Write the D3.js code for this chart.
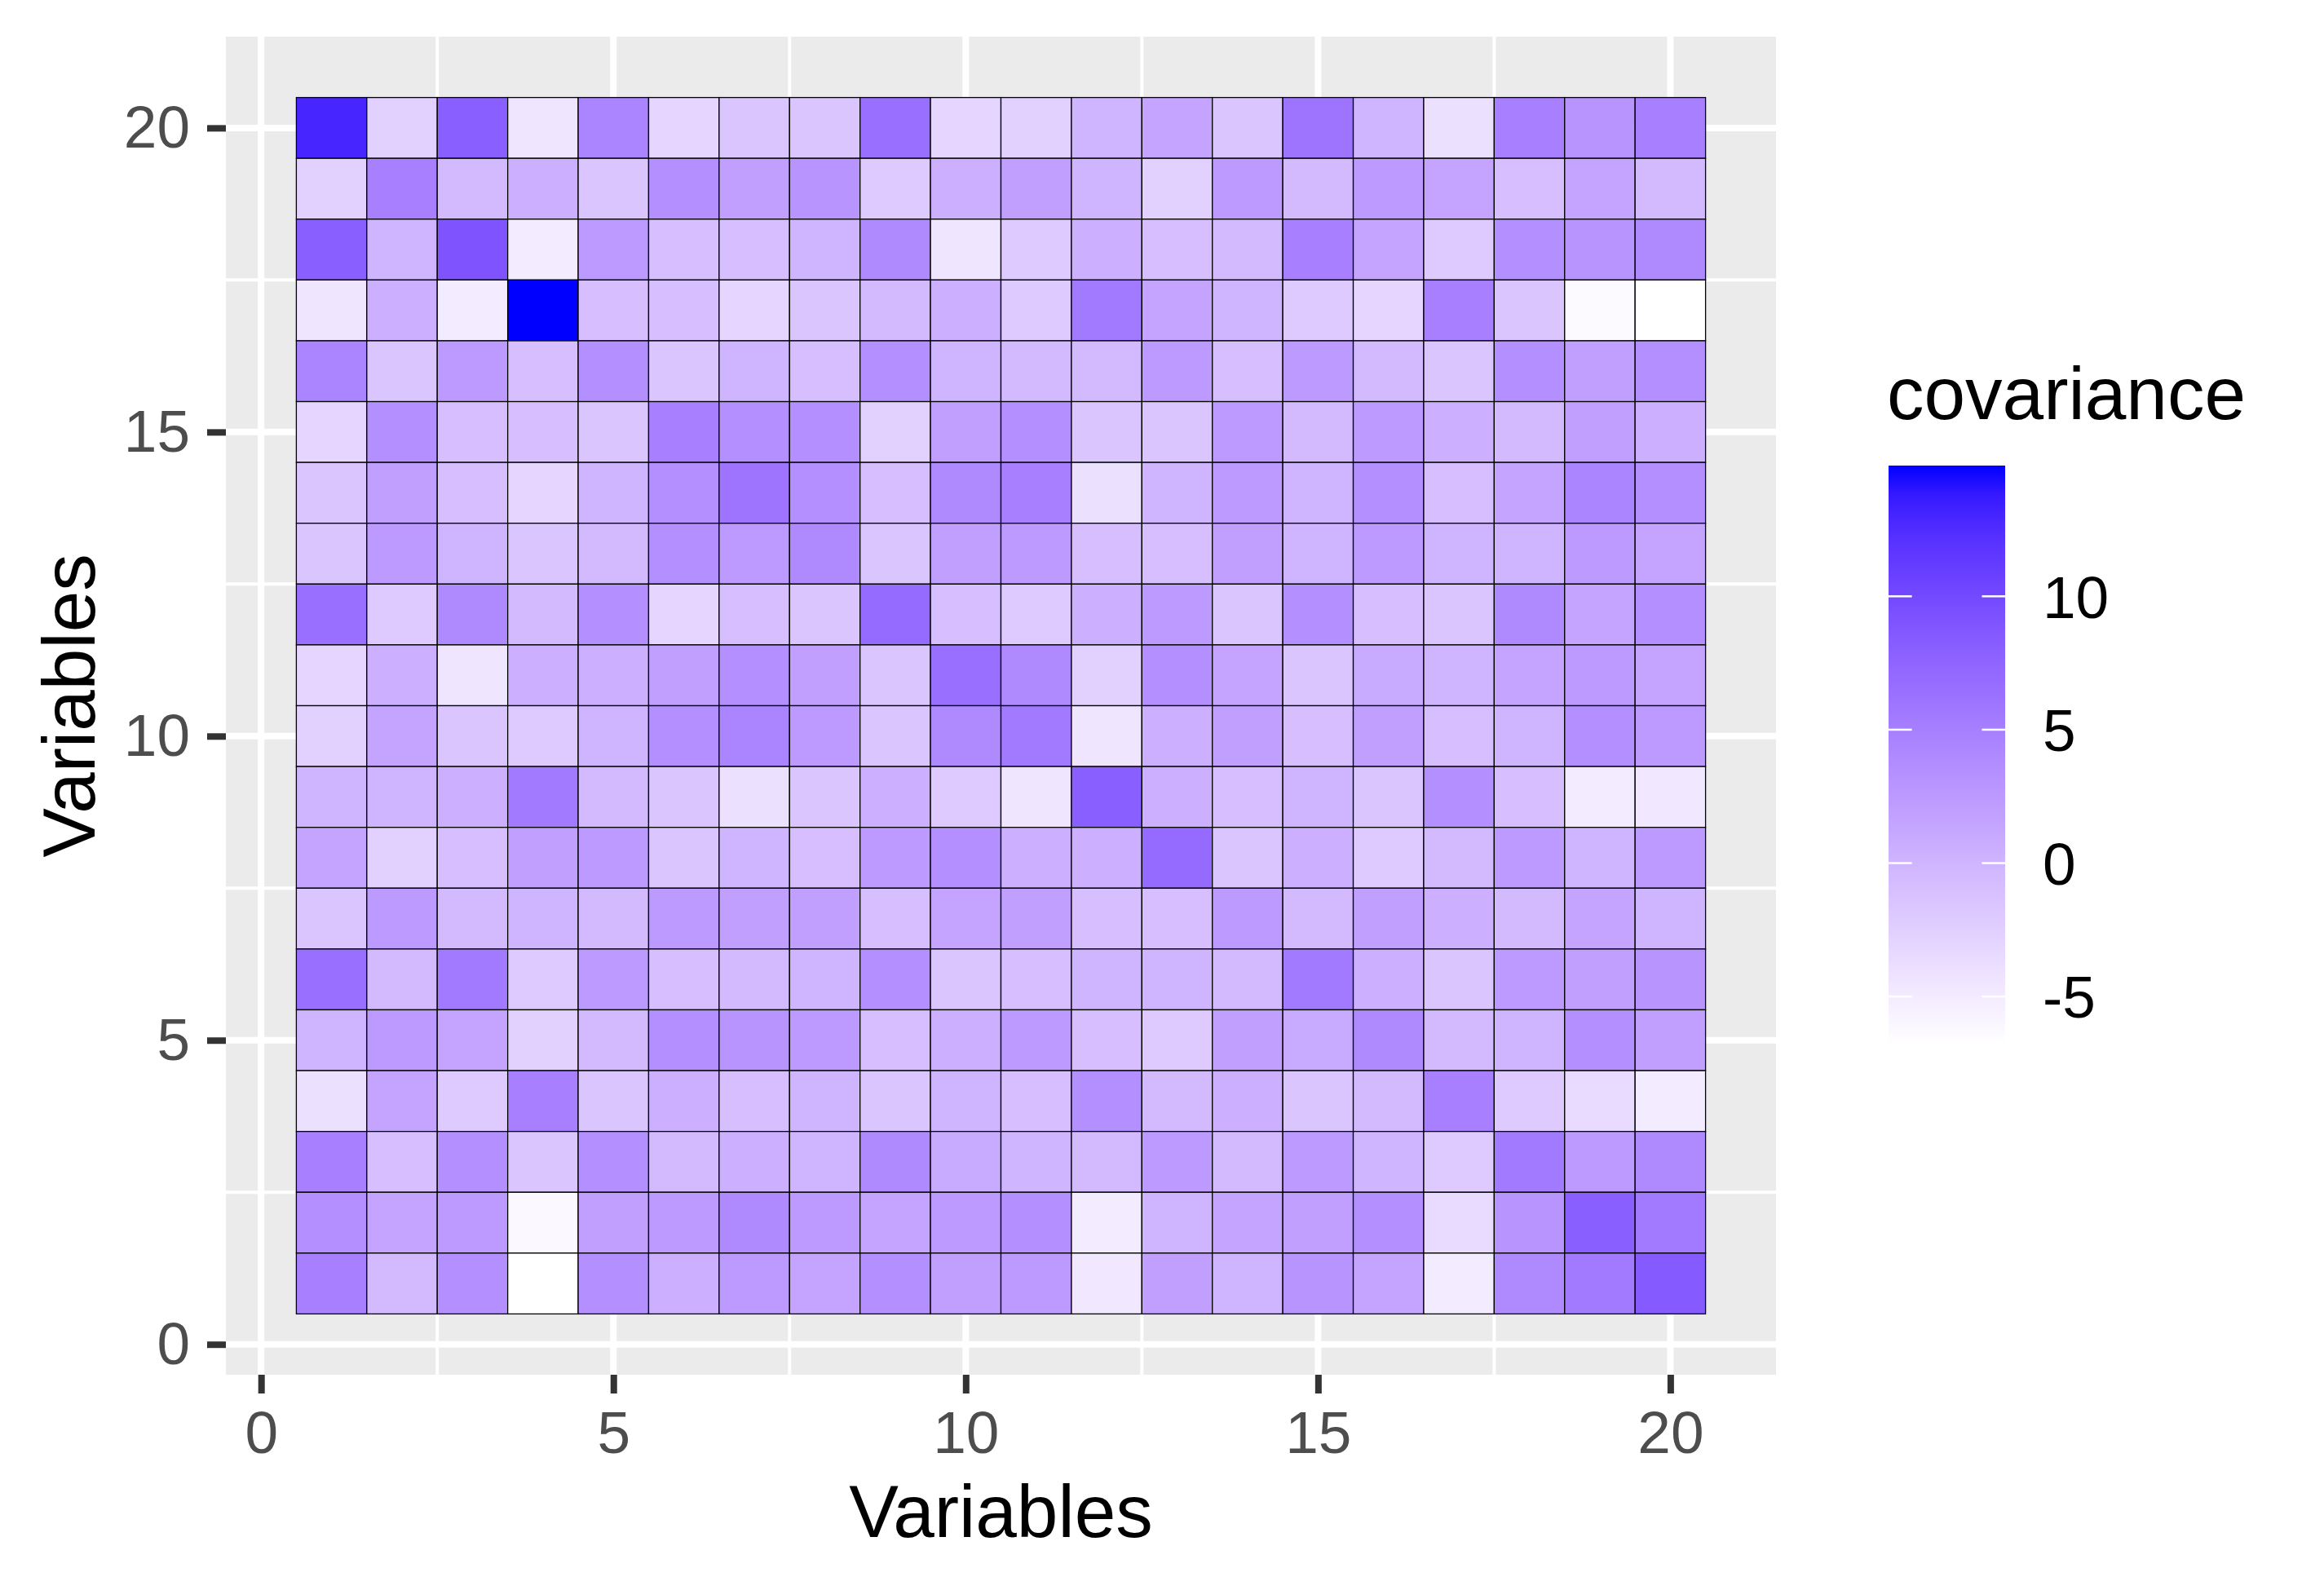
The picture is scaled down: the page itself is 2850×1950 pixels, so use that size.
<!DOCTYPE html>
<html>
<head>
<meta charset="utf-8">
<script src="https://cdn.jsdelivr.net/npm/d3@7"></script>
<style>
body { margin: 0; background: #fff; }
text { font-family: "Liberation Sans", Arial, sans-serif; }
</style>
</head>
<body>
<svg id="mainSvg" width="2850" height="1950"></svg>
<script>
// variables on each axis
var xVars = [1, 2, 3, 4, 5, 6, 7, 8, 9, 10, 11, 12, 13, 14, 15, 16, 17, 18, 19, 20];
var yVars = [20, 19, 18, 17, 16, 15, 14, 13, 12, 11, 10, 9, 8, 7, 6, 5, 4, 3, 2, 1];
// covariance values, one row per y variable (top row first), columns x = 1..20
var covRows = [
	[13, -2.5, 8, -4.5, 4.5, -3, -1.5, -1.5, 6.5, -3, -2.5, 0, 1.5, -1.5, 6, 0, -4, 5, 3, 5],
	[-2.5, 5, -0.5, 0.5, -1.5, 3.5, 2, 3, -2, 0.5, 2, 0, -2.5, 2.5, -0.5, 2.5, 1.5, -1, 1.5, -0.5],
	[8, 0, 9, -5, 2.5, -1, -1, 0, 4, -4.5, -2, 0.5, -1, -0.5, 5, 1.5, -2, 3.5, 3, 4],
	[-4.5, 0.5, -5, 14.9, -1, -1, -3, -1.5, -0.5, 0.5, -2, 5.5, 1.5, 0, -2, -3, 5, -1.5, -6.3, -6.8],
	[4.5, -1.5, 2.5, -1, 3.5, -1.5, 0, -1, 3.5, 0, -0.5, -0.5, 2.5, -1, 2.5, -0.5, -1.5, 3.5, 2, 3.5],
	[-3, 3.5, -1, -1, -1.5, 5, 3.5, 3.5, -2.5, 2, 3.5, -1.5, -1.5, 2.5, -0.5, 2.5, 0.5, -0.5, 2, 0.5],
	[-1.5, 2, -1, -3, 0, 3.5, 6, 3.5, -1, 4, 5, -4, 0, 2.5, 0, 3.5, -1, 1.5, 4.5, 3.5],
	[-1.5, 2.5, 0, -1.5, -0.5, 3.5, 2.5, 4, -1.5, 2, 2.5, -1, -1, 2, 0, 2.5, 0, 0, 2.5, 1.5],
	[6.5, -2, 4, -0.5, 3.5, -3, -1, -1.5, 7, -1, -2, 0.5, 2.5, -1.5, 3.5, -1, -1.5, 4, 1.5, 3.5],
	[-3, 0.5, -4.5, 0.5, 0.5, 2, 3.5, 2, -1.5, 6.5, 4, -2.5, 3.5, 1.5, -1.5, 1, 0, 1.5, 2.5, 1.5],
	[-2.5, 1.5, -1.5, -2, 0, 3.5, 4.5, 2.5, -1.5, 4, 5.5, -4.5, 0.5, 2, -1, 2, -1, 0, 3.5, 2.5],
	[0, 0, 0.5, 5.5, -0.5, -1.5, -4, -1.5, 0.5, -2, -4.5, 8, 0.5, -1, 0, -1.5, 3.5, -1, -5, -4.7],
	[1.5, -2.5, -1, 2, 2.5, -1.5, 0, -1, 2.5, 3.5, 0.5, 0.5, 7, -1.5, 0.5, -2, -0.5, 2.5, 0, 2.5],
	[-1.5, 2.5, -0.5, 0, -0.5, 2.5, 2, 2, -1, 1.5, 2, -1, -1, 2.5, -0.5, 2, 0.5, -0.5, 1.5, 0],
	[6.5, -0.5, 5.5, -2, 2.5, -1, -0.5, 0, 3.5, -1.5, -1, 0, 0, -0.5, 5.5, 0.5, -1.5, 2.5, 2, 3],
	[0, 2.5, 1.5, -2.5, -0.5, 3.5, 3, 2.5, -1, 0.5, 2.5, -1, -2, 2, 1, 4, -0.5, 0, 3.5, 2],
	[-4, 1.5, -2, 5, -1.5, 0.5, -1, 0, -1.5, 0, -1, 3.5, -0.5, 0.5, -1.5, -0.5, 5, -2, -3.5, -5],
	[5, -1, 3.5, -1.5, 3.5, -0.5, 0.5, 0, 4, 1, 0, -0.5, 2.5, -0.5, 2.5, 0, -2, 5.5, 2.5, 4],
	[3.5, 1.5, 2.5, -6.2, 2, 2.5, 4, 2.5, 1.5, 2.5, 3.5, -5, 0, 1.5, 2, 3.5, -3.5, 3, 8, 5.5],
	[5, -0.5, 3.5, -6.8, 3.5, 0.5, 2.5, 1.5, 3.5, 2, 2.5, -4.7, 2, 0, 3, 1.5, -5, 4, 5.5, 8.5]
];
var axisTicks = [0, 5, 10, 15, 20];
var legendTicks = [10, 5, 0, -5];
var legendTitle = "covariance";
var axisTitle = "Variables";

var map = {left: 277, right: 2178, top: 45, bottom: 1686};
var legendBar = {x: 2316, width: 143, top: 571, bottom: 1281};

var cells = [];
for(var i = 0; i < yVars.length; i++)
	for(var j = 0; j < xVars.length; j++)
		cells.push({x: xVars[j], y: yVars[i], v: covRows[i][j]});

var vExtent = d3.extent(cells, function(d) { return d.v; });
var xScale = d3.scaleLinear().domain([-0.5, 21.5]).range([map.left, map.right]);
var yScale = d3.scaleLinear().domain([-0.5, 21.5]).range([map.bottom, map.top]);
var fillScale = d3.scaleLinear().domain(vExtent).range(["white", "blue"]).interpolate(d3.interpolateLab);

var mainSvg = d3.select("#mainSvg");

// panel background + grid
mainSvg.append("rect").attr("x", map.left).attr("y", map.top)
	.attr("width", map.right - map.left).attr("height", map.bottom - map.top).attr("fill", "#EBEBEB");
var minorTicks = [];
for(var k = 0; k < axisTicks.length - 1; k++)
	minorTicks.push((axisTicks[k] + axisTicks[k + 1]) / 2);
var grid = mainSvg.append("g");
[[minorTicks, 4], [axisTicks, 8]].forEach(function(g) {
	grid.selectAll(null).data(g[0]).enter().append("line")
		.attr("x1", function(d) { return xScale(d); }).attr("x2", function(d) { return xScale(d); })
		.attr("y1", map.top).attr("y2", map.bottom)
		.attr("stroke", "#fff").attr("stroke-width", g[1]);
	grid.selectAll(null).data(g[0]).enter().append("line")
		.attr("y1", function(d) { return yScale(d); }).attr("y2", function(d) { return yScale(d); })
		.attr("x1", map.left).attr("x2", map.right)
		.attr("stroke", "#fff").attr("stroke-width", g[1]);
});

// tiles
var cw = xScale(1) - xScale(0);
var ch = yScale(0) - yScale(1);
mainSvg.append("g").selectAll("rect").data(cells).enter().append("rect")
	.attr("x", function(d) { return xScale(d.x - 0.5); })
	.attr("y", function(d) { return yScale(d.y + 0.5); })
	.attr("width", cw).attr("height", ch)
	.attr("fill", function(d) { return fillScale(d.v); })
	.attr("stroke", "#000").attr("stroke-width", 1.3);

// axes
function styleAxis(g)
{
	g.select(".domain").remove();
	g.selectAll(".tick line").attr("stroke", "#333333").attr("stroke-width", 8);
	g.selectAll(".tick text").attr("fill", "#4D4D4D").attr("font-size", "73px")
		.attr("font-family", "Liberation Sans, Arial, sans-serif");
}
mainSvg.append("g").attr("transform", "translate(0," + map.bottom + ")")
	.call(d3.axisBottom(xScale).tickValues(axisTicks).tickSize(23).tickPadding(21).tickFormat(d3.format("d")))
	.call(styleAxis);
mainSvg.append("g").attr("transform", "translate(" + map.left + ",0)")
	.call(d3.axisLeft(yScale).tickValues(axisTicks).tickSize(23).tickPadding(21).tickFormat(d3.format("d")))
	.call(styleAxis);

// axis titles
mainSvg.append("text").attr("x", (map.left + map.right) / 2).attr("y", 1885)
	.attr("text-anchor", "middle").attr("font-size", "91px").attr("fill", "#000").text(axisTitle);
mainSvg.append("text").attr("transform", "translate(116," + (map.top + map.bottom) / 2 + ") rotate(-90)")
	.attr("text-anchor", "middle").attr("font-size", "91px").attr("fill", "#000").text(axisTitle);

// legend
var legScale = d3.scaleLinear().domain(vExtent).range([legendBar.bottom, legendBar.top]);
var grad = mainSvg.append("defs").append("linearGradient").attr("id", "legGrad")
	.attr("x1", 0).attr("x2", 0).attr("y1", 1).attr("y2", 0);
grad.selectAll("stop").data(d3.range(0, 1.0001, 0.05)).enter().append("stop")
	.attr("offset", function(d) { return d; })
	.attr("stop-color", function(d) { return fillScale(vExtent[0] + d * (vExtent[1] - vExtent[0])); });
mainSvg.append("rect").attr("x", legendBar.x).attr("y", legendBar.top)
	.attr("width", legendBar.width).attr("height", legendBar.bottom - legendBar.top)
	.attr("fill", "url(#legGrad)");
var tickLen = legendBar.width / 5;
var legG = mainSvg.append("g");
legG.selectAll(null).data(legendTicks).enter().append("line")
	.attr("x1", legendBar.x).attr("x2", legendBar.x + tickLen)
	.attr("y1", function(d) { return legScale(d); }).attr("y2", function(d) { return legScale(d); })
	.attr("stroke", "#fff").attr("stroke-width", 2.5);
legG.selectAll(null).data(legendTicks).enter().append("line")
	.attr("x1", legendBar.x + legendBar.width - tickLen).attr("x2", legendBar.x + legendBar.width)
	.attr("y1", function(d) { return legScale(d); }).attr("y2", function(d) { return legScale(d); })
	.attr("stroke", "#fff").attr("stroke-width", 2.5);
legG.selectAll("text").data(legendTicks).enter().append("text")
	.attr("x", 2505).attr("y", function(d) { return legScale(d); })
	.attr("dy", "0.36em").attr("font-size", "73px").attr("fill", "#000")
	.text(function(d) { return d; });
mainSvg.append("text").attr("x", 2314).attr("y", 514)
	.attr("font-size", "91px").attr("fill", "#000").text(legendTitle);
</script>
</body>
</html>
